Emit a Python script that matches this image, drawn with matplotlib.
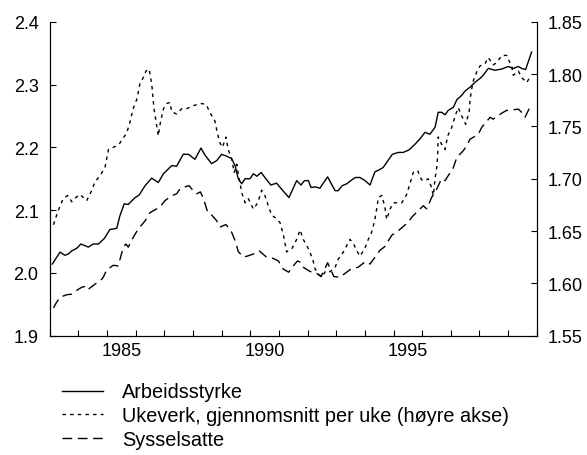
import matplotlib
matplotlib.use("Agg")
import matplotlib.pyplot as plt
from matplotlib.ticker import FixedLocator, FormatStrFormatter

plt.rcParams['font.family'] = ['Liberation Sans', 'DejaVu Sans']

# Arbeidsstyrke (left axis)
ar_year = [1983.09, 1983.36, 1983.53, 1983.65, 1983.77, 1983.94, 1984.09, 1984.35, 1984.52, 1984.70,
           1984.91, 1985.10, 1985.34, 1985.45, 1985.60, 1985.74, 1985.98, 1986.12, 1986.33, 1986.56,
           1986.79, 1986.97, 1987.26, 1987.43, 1987.66, 1987.84, 1988.07, 1988.28, 1988.40, 1988.65,
           1988.83, 1989.00, 1989.18, 1989.35, 1989.47, 1989.58, 1989.70, 1989.82, 1989.99, 1990.11,
           1990.23, 1990.38, 1990.51, 1990.72, 1990.92, 1991.10, 1991.35, 1991.62, 1991.77, 1991.89,
           1992.03, 1992.12, 1992.26, 1992.43, 1992.70, 1992.96, 1993.07, 1993.21, 1993.37, 1993.54,
           1993.67, 1993.83, 1994.01, 1994.18, 1994.35, 1994.49, 1994.64, 1994.76, 1994.96, 1995.17,
           1995.34, 1995.54, 1995.75, 1995.93, 1996.10, 1996.27, 1996.45, 1996.56, 1996.68, 1996.80,
           1996.91, 1997.09, 1997.21, 1997.38, 1997.50, 1997.67, 1997.85, 1998.02, 1998.13, 1998.31,
           1998.54, 1998.78, 1999.01, 1999.18, 1999.36, 1999.47, 1999.61, 1999.82]
ar_val = [2.014, 2.033, 2.028, 2.030, 2.035, 2.039, 2.046, 2.041, 2.046, 2.046,
          2.055, 2.069, 2.071, 2.091, 2.110, 2.109, 2.120, 2.124, 2.139, 2.151,
          2.144, 2.158, 2.171, 2.170, 2.189, 2.189, 2.181, 2.199, 2.189, 2.174,
          2.179, 2.189, 2.186, 2.182, 2.171, 2.150, 2.142, 2.150, 2.150, 2.158,
          2.154, 2.160, 2.152, 2.140, 2.143, 2.133, 2.120, 2.147, 2.140, 2.147,
          2.147, 2.136, 2.137, 2.135, 2.153, 2.131, 2.131, 2.139, 2.142, 2.148,
          2.152, 2.152, 2.147, 2.140, 2.161, 2.164, 2.168, 2.176, 2.189, 2.192,
          2.192, 2.196, 2.205, 2.214, 2.224, 2.221, 2.232, 2.256, 2.256, 2.252,
          2.259, 2.264, 2.276, 2.283, 2.290, 2.296, 2.304, 2.310, 2.315, 2.326,
          2.323, 2.325, 2.329, 2.326, 2.329, 2.326, 2.324, 2.352]

# Ukeverk, gjennomsnitt per uke (right axis)
uk_year = [1983.13, 1983.24, 1983.36, 1983.47, 1983.63, 1983.77, 1983.91, 1984.06, 1984.29, 1984.47,
           1984.58, 1984.76, 1984.93, 1985.05, 1985.22, 1985.42, 1985.69, 1985.80, 1985.91, 1986.04,
           1986.15, 1986.27, 1986.36, 1986.47, 1986.56, 1986.64, 1986.73, 1986.79, 1986.85, 1986.97,
           1987.08, 1987.20, 1987.26, 1987.43, 1987.61, 1987.78, 1988.01, 1988.31, 1988.46, 1988.60,
           1988.77, 1988.84, 1988.93, 1989.03, 1989.15, 1989.23, 1989.35, 1989.44, 1989.53, 1989.58,
           1989.70, 1989.82, 1989.93, 1990.11, 1990.26, 1990.40, 1990.51, 1990.63, 1990.75, 1990.86,
           1991.04, 1991.15, 1991.27, 1991.45, 1991.62, 1991.74, 1991.85, 1992.03, 1992.18, 1992.26,
           1992.37, 1992.50, 1992.64, 1992.78, 1992.96, 1993.07, 1993.25, 1993.42, 1993.48, 1993.60,
           1993.72, 1993.83, 1993.95, 1994.04, 1994.12, 1994.24, 1994.35, 1994.43, 1994.47, 1994.59,
           1994.70, 1994.76, 1994.88, 1994.99, 1995.17, 1995.29, 1995.46, 1995.58, 1995.69, 1995.84,
           1995.98, 1996.10, 1996.21, 1996.31, 1996.39, 1996.45, 1996.51, 1996.54, 1996.56, 1996.68,
           1996.80, 1996.89, 1997.03, 1997.15, 1997.26, 1997.40, 1997.52, 1997.64, 1997.67, 1997.73,
           1997.79, 1997.90, 1998.02, 1998.19, 1998.31, 1998.48, 1998.60, 1998.78, 1998.95, 1999.13,
           1999.18, 1999.36, 1999.47, 1999.65, 1999.80]
uk_val = [1.656, 1.665, 1.674, 1.681, 1.684, 1.678, 1.682, 1.685, 1.679, 1.689,
          1.697, 1.703, 1.711, 1.728, 1.730, 1.733, 1.744, 1.754, 1.767, 1.776,
          1.791, 1.797, 1.803, 1.805, 1.791, 1.767, 1.751, 1.741, 1.752, 1.767,
          1.772, 1.773, 1.764, 1.762, 1.767, 1.767, 1.770, 1.772, 1.771, 1.763,
          1.755, 1.745, 1.735, 1.730, 1.740, 1.728, 1.719, 1.706, 1.714, 1.705,
          1.687, 1.677, 1.681, 1.671, 1.677, 1.689, 1.684, 1.674, 1.665, 1.663,
          1.658, 1.647, 1.630, 1.633, 1.642, 1.651, 1.642, 1.633, 1.623, 1.614,
          1.609, 1.606, 1.612, 1.611, 1.615, 1.623, 1.630, 1.639, 1.642, 1.638,
          1.631, 1.626, 1.631, 1.636, 1.642, 1.649, 1.661, 1.674, 1.682, 1.684,
          1.673, 1.661, 1.671, 1.677, 1.677, 1.677, 1.685, 1.696, 1.706, 1.708,
          1.699, 1.698, 1.700, 1.693, 1.684, 1.700, 1.711, 1.722, 1.740, 1.733,
          1.728, 1.741, 1.749, 1.760, 1.768, 1.759, 1.752, 1.764, 1.775, 1.786,
          1.794, 1.802, 1.808, 1.810, 1.816, 1.809, 1.811, 1.818, 1.818, 1.807,
          1.799, 1.803, 1.797, 1.792, 1.799]

# Sysselsatte (left axis)
sy_year = [1983.13, 1983.24, 1983.36, 1983.59, 1983.77, 1983.94, 1984.12, 1984.29, 1984.35, 1984.47,
           1984.58, 1984.76, 1984.87, 1984.99, 1985.22, 1985.39, 1985.57, 1985.66, 1985.74, 1985.92,
           1986.09, 1986.33, 1986.50, 1986.85, 1987.02, 1987.26, 1987.43, 1987.55, 1987.72, 1987.86,
           1988.01, 1988.13, 1988.26, 1988.37, 1988.51, 1988.60, 1988.83, 1988.94, 1989.15, 1989.33,
           1989.49, 1989.58, 1989.76, 1989.92, 1990.11, 1990.31, 1990.57, 1990.80, 1990.98, 1991.15,
           1991.34, 1991.50, 1991.65, 1991.74, 1991.81, 1992.09, 1992.26, 1992.47, 1992.70, 1992.92,
           1993.13, 1993.48, 1993.77, 1994.02, 1994.18, 1994.53, 1994.70, 1994.94, 1995.14, 1995.52,
           1995.64, 1995.93, 1996.04, 1996.16, 1996.33, 1996.51, 1996.68, 1996.80, 1997.09, 1997.21,
           1997.44, 1997.56, 1997.67, 1997.96, 1998.08, 1998.37, 1998.48, 1998.66, 1998.83, 1998.95,
           1999.36, 1999.47, 1999.59, 1999.76]
sy_val = [1.944, 1.953, 1.961, 1.965, 1.966, 1.972, 1.977, 1.979, 1.974, 1.978,
          1.982, 1.987, 1.993, 2.005, 2.012, 2.011, 2.041, 2.046, 2.041, 2.057,
          2.070, 2.083, 2.096, 2.105, 2.115, 2.123, 2.126, 2.134, 2.137, 2.139,
          2.131, 2.126, 2.129, 2.118, 2.097, 2.095, 2.083, 2.073, 2.077, 2.067,
          2.049, 2.034, 2.025, 2.027, 2.030, 2.035, 2.025, 2.023, 2.019, 2.006,
          2.001, 2.011, 2.019, 2.017, 2.010, 2.002, 2.001, 1.994, 2.016, 1.994,
          1.993, 2.005, 2.009, 2.018, 2.014, 2.036, 2.042, 2.060, 2.066, 2.081,
          2.089, 2.102, 2.107, 2.102, 2.120, 2.134, 2.150, 2.147, 2.168, 2.184,
          2.195, 2.203, 2.213, 2.221, 2.232, 2.248, 2.245, 2.251, 2.256, 2.259,
          2.261, 2.256, 2.248, 2.264]

labels = ['Arbeidsstyrke', 'Ukeverk, gjennomsnitt per uke (høyre akse)', 'Sysselsatte']
year_labels = [1985, 1990, 1995]

fig = plt.figure(figsize=(5.87, 4.56), dpi=100)
ax = fig.add_axes([0.0847, 0.262, 0.8297, 0.6876])
ax2 = ax.twinx()

l1, = ax.plot(ar_year, ar_val, color='black', lw=1.0, ls='-')
l3, = ax.plot(sy_year, sy_val, color='black', lw=1.0, ls=(0, (7, 4)))
l2, = ax2.plot(uk_year, uk_val, color='black', lw=1.0, ls=(0, (2.5, 3)))

# ticks at year boundaries, year labels centred in each year
ax.set_xlim(1983, 2000)
ax.set_ylim(1.9, 2.4)
ax2.set_ylim(1.55, 1.85)

ax.set_yticks([1.9, 2.0, 2.1, 2.2, 2.3, 2.4])
ax.yaxis.set_major_formatter(FormatStrFormatter('%.1f'))
ax2.set_yticks([1.55, 1.60, 1.65, 1.70, 1.75, 1.80, 1.85])
ax2.yaxis.set_major_formatter(FormatStrFormatter('%.2f'))

ax.xaxis.set_major_locator(FixedLocator(list(range(1983, 2001))))
ax.xaxis.set_major_formatter(plt.NullFormatter())
ax.xaxis.set_minor_locator(FixedLocator([y + 0.5 for y in year_labels]))
ax.set_xticklabels([str(y) for y in year_labels], minor=True)

ax.tick_params(axis='x', which='major', direction='in', length=4, width=0.8)
ax.tick_params(axis='x', which='minor', length=0, labelsize=13, pad=5)
ax.tick_params(axis='y', direction='in', length=4, width=0.8, labelsize=13, pad=8)
ax2.tick_params(axis='y', direction='in', length=4, width=0.8, labelsize=13, pad=8)

for a in (ax, ax2):
    a.spines['top'].set_visible(False)
    for s in ('left', 'right', 'bottom'):
        a.spines[s].set_linewidth(0.8)

fig.legend([l1, l2, l3], labels, loc='upper left', bbox_to_anchor=(0.105, 0.159),
           frameon=False, fontsize=14.3, handlelength=2.06, handletextpad=1.0,
           labelspacing=0.24, borderaxespad=0, borderpad=0)

fig.savefig('out.png', dpi=100)
